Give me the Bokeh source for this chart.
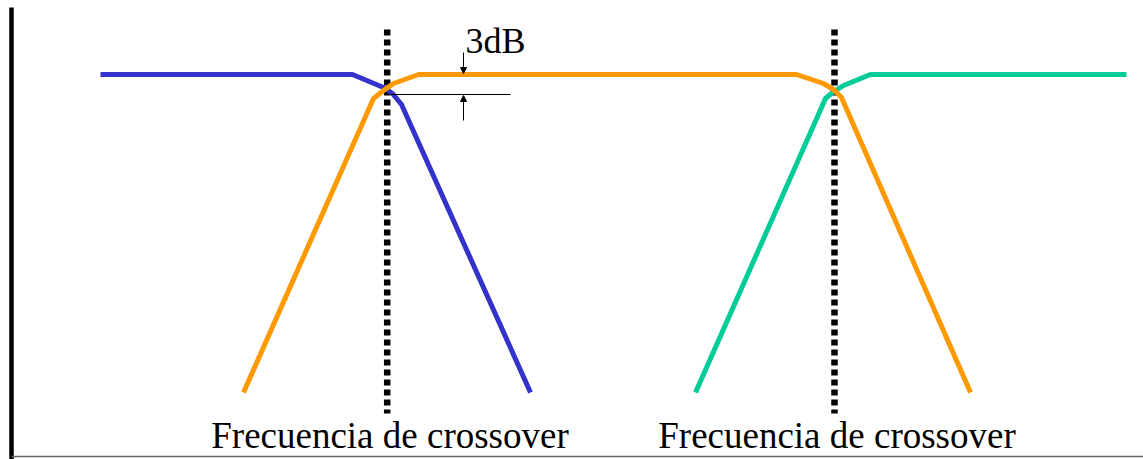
from bokeh.plotting import figure
from bokeh.models import Range1d, Arrow, NormalHead
from bokeh.core.properties import value
from bokeh.embed import file_html
from bokeh.resources import INLINE

# ---- data (x in horizontal units, y in dB) ----
woofer_x = [100, 352, 383, 392, 401, 530]
woofer_db = [0, 0, -1.95, -2.85, -4.5, -47.7]

mid_x = [243, 373, 383, 393, 418, 796, 823, 833, 841, 970]
mid_db = [-47.7, -3.6, -2.4, -1.35, 0, 0, -1.35, -2.25, -3.45, -47.7]

tweeter_x = [695, 825, 832, 843, 870, 1126]
tweeter_db = [-47.7, -3.6, -2.7, -1.65, 0, 0]

crossover_x = [386.7, 834]
crossover_top_db = 6.75
crossover_bottom_db = -50.85

ref_line_x = [387, 510]
ref_line_db = -3

arrow_x = 463
arrow_down_db = [3.3, 0.15]
arrow_up_db = [-6.9, -3.15]

db_label = "3dB"
db_label_x = 465
db_label_db = 5.1

crossover_label = "Frecuencia de crossover"
crossover_label_x = [389.5, 836.5]
crossover_label_db = -54.15

axis_left_x = 11
axis_top_db = 10.05
axis_bottom_db = -57.3

# ---- figure ----
p = figure(width=1143, height=459, output_backend="svg", toolbar_location=None,
           x_range=Range1d(0, 1143), y_range=Range1d(-57.75, 11.1),
           min_border=0)
p.axis.visible = False
p.grid.visible = False
p.outline_line_color = None
p.background_fill_color = "white"

FONT = value("Liberation Serif")

# frame lines
p.line([axis_left_x, axis_left_x], [axis_top_db, -57.75], line_color="black", line_width=4.5)
p.line([axis_left_x, 1143], [axis_bottom_db, axis_bottom_db], line_color="#666666", line_width=1.5)

# crossover dashed lines
for cx in crossover_x:
    p.line([cx, cx], [crossover_top_db, crossover_bottom_db], line_color="black",
           line_width=6.5, line_dash="6 4", line_cap="butt")

# response curves
p.line(woofer_x, woofer_db, line_color="#3333CC", line_width=5, line_join="round")
p.line(tweeter_x, tweeter_db, line_color="#00CC99", line_width=5, line_join="round")
p.line(mid_x, mid_db, line_color="#FF9900", line_width=5, line_join="round")

# -3 dB reference line
p.line(ref_line_x, [ref_line_db, ref_line_db], line_color="black", line_width=1)

# arrows
for ys in (arrow_down_db, arrow_up_db):
    p.add_layout(Arrow(end=NormalHead(size=6, fill_color="black", line_color="black", line_width=1),
                       x_start=arrow_x, y_start=ys[0], x_end=arrow_x, y_end=ys[1],
                       line_color="black", line_width=1))

# texts
p.text(x=[db_label_x], y=[db_label_db], text=[db_label], text_font=FONT,
       text_font_size="36px", text_color="black", text_align="left",
       text_baseline="alphabetic")
p.text(x=crossover_label_x, y=[crossover_label_db] * 2, text=[crossover_label] * 2,
       text_font=FONT, text_font_size="37px", text_color="black",
       text_align="center", text_baseline="alphabetic")

open("out.html", "w").write(file_html(p, INLINE))
